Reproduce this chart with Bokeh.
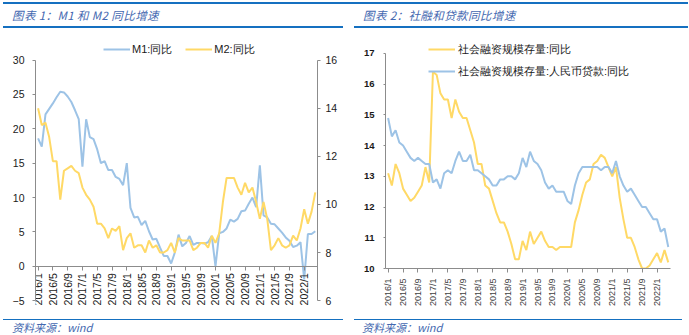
import numpy as np
from bokeh.plotting import figure
from bokeh.models import Range1d, LinearAxis, FixedTicker, Legend, LegendItem, Div
from bokeh.layouts import row, column
from bokeh.embed import file_html
from bokeh.resources import INLINE

# ---------------- data ----------------
months = [f"{y}/{m}" for y in range(2016, 2023) for m in range(1, 13)][:76]

m1 = [18.6, 17.4, 22.1, 22.9, 23.7, 24.6, 25.4, 25.3, 24.7, 23.9, 22.7, 21.4,
      14.5, 21.4, 18.8, 18.5, 17.0, 15.0, 15.3, 14.0, 14.0, 13.0, 12.7, 11.8,
      15.0, 8.5, 7.1, 7.2, 6.0, 6.6, 5.1, 3.9, 4.0, 2.7, 1.5, 1.5,
      0.4, 2.0, 4.6, 2.9, 3.4, 4.4, 3.1, 3.4, 3.4, 3.3, 3.5, 4.4,
      0.0, 4.8, 5.0, 5.5, 6.8, 6.5, 6.9, 8.0, 8.1, 9.1, 10.0, 8.6,
      14.7, 7.4, 7.1, 6.2, 6.1, 5.5, 4.9, 4.2, 3.7, 2.8, 3.0, 3.5,
      -1.9, 4.7, 4.7, 5.1]

m2 = [14.0, 13.3, 13.4, 12.8, 11.8, 11.8, 10.2, 11.4, 11.5, 11.6, 11.4, 11.3,
      10.7, 10.4, 10.2, 9.9, 9.2, 9.2, 9.0, 8.6, 9.0, 8.9, 9.1, 8.1,
      8.6, 8.8, 8.2, 8.3, 8.3, 8.0, 8.5, 8.2, 8.3, 8.0, 8.0, 8.1,
      8.4, 8.0, 8.6, 8.5, 8.5, 8.5, 8.1, 8.2, 8.4, 8.4, 8.2, 8.7,
      8.4, 8.8, 10.1, 11.1, 11.1, 11.1, 10.7, 10.4, 10.9, 10.5, 10.7, 10.1,
      9.4, 10.1, 9.4, 8.1, 8.3, 8.6, 8.3, 8.2, 8.3, 8.7, 8.5, 9.0,
      9.8, 9.2, 9.7, 10.5]

tsf = [13.1, 12.7, 13.4, 13.1, 12.6, 12.4, 12.2, 12.3, 12.5, 12.7, 13.3, 12.8,
       16.4, 16.3, 15.7, 15.5, 15.5, 14.9, 15.5, 15.1, 14.9, 14.9, 14.5, 14.1,
       13.4, 13.4, 12.7, 12.6, 12.2, 11.8, 11.5, 11.5, 11.2, 10.8, 10.3, 10.3,
       10.9, 10.6, 11.2, 10.8, 11.0, 11.2, 10.9, 10.7, 10.7, 10.6, 10.7, 10.7,
       10.7, 10.7, 11.5, 11.9, 12.4, 12.8, 12.9, 13.4, 13.5, 13.7, 13.6, 13.3,
       13.0, 13.3, 12.3, 11.6, 11.0, 11.0, 10.7, 10.3, 10.0, 10.0, 10.1, 10.3,
       10.5, 10.2, 10.6, 10.2]

loan = [14.9, 14.3, 14.5, 14.1, 14.0, 13.8, 13.6, 13.5, 13.6, 13.5, 13.4, 13.4,
        12.8, 12.9, 12.6, 13.1, 13.2, 13.1, 13.5, 13.8, 13.5, 13.5, 13.7, 13.2,
        13.2, 13.1, 13.0, 12.9, 12.7, 12.7, 12.9, 12.9, 13.0, 13.0, 12.9, 13.1,
        13.6, 13.3, 13.8, 13.5, 13.4, 13.2, 12.8, 12.6, 12.7, 12.5, 12.5, 12.5,
        12.2, 12.1, 12.7, 13.1, 13.3, 13.3, 13.3, 13.3, 13.3, 13.2, 13.3, 13.3,
        13.1, 13.5, 13.0, 12.7, 12.5, 12.6, 12.4, 12.2, 12.0, 12.0, 11.8, 11.6,
        11.6, 11.2, 11.3, 10.7]

left_ticks = [-5, 0, 5, 10, 15, 20, 25, 30]
right_ticks = [6, 8, 10, 12, 14, 16]
p2_ticks = [10, 11, 12, 13, 14, 15, 16, 17]

x = list(range(len(months)))
tick_idx = x[::4]
label_map = {i: months[i] for i in tick_idx}

BLUE = "#9DC3E6"
YELLOW = "#FFD966"
RULE = "#1570C0"
TITLE_C = "#4468B0"
AXIS_C = "#8C8C8C"
FONT = "Liberation Sans"


def style_axis(ax, size, bold=False, color="#1a1a1a", standoff=5, tick_out=4):
    ax.axis_line_color = AXIS_C
    ax.major_tick_line_color = AXIS_C
    ax.minor_tick_line_color = None
    ax.major_tick_in = 0
    ax.major_tick_out = tick_out
    ax.major_label_standoff = standoff
    ax.major_label_text_font = FONT
    ax.major_label_text_font_size = size
    ax.major_label_text_color = color
    ax.major_label_text_font_style = "bold" if bold else "normal"


def header(text, w, top_l, top_w, line_l, line_w, text_l):
    html = (
        f'<div style="position:relative;width:{w}px;height:30px;">'
        f'<div style="position:absolute;left:{top_l}px;top:2px;width:{top_w}px;height:2px;background:{RULE};"></div>'
        f'<div style="position:absolute;left:{text_l}px;top:6px;font-style:italic;font-size:11.5px;letter-spacing:0.4px;'
        f"font-family:'Noto Sans CJK SC';color:{TITLE_C};line-height:18px;white-space:nowrap;\">{text}</div>"
        f'<div style="position:absolute;left:{line_l}px;top:26px;width:{line_w}px;height:2px;background:{RULE};"></div>'
        f'</div>'
    )
    return Div(text=html, width=w, height=30, margin=(0, 0, 0, 0))


def footer(w, line_l, line_w, text_l):
    html = (
        f'<div style="position:relative;width:{w}px;height:18px;">'
        f'<div style="position:absolute;left:{line_l}px;top:1.5px;width:{line_w}px;height:1.5px;background:{RULE};"></div>'
        f'<div style="position:absolute;left:{text_l}px;top:3px;font-style:italic;font-size:11px;'
        f"font-family:'Noto Sans CJK SC';color:{TITLE_C};line-height:14px;white-space:nowrap;\">资料来源：wind</div>"
        f'</div>'
    )
    return Div(text=html, width=w, height=18, margin=(0, 0, 0, 0))


# ---------------- left chart ----------------
p1 = figure(width=345, height=287, x_range=Range1d(-0.7, 75.6), y_range=Range1d(-6.0, 33.0),
            output_backend="svg", toolbar_location=None,
            min_border_left=35, min_border_right=28, min_border_top=9, min_border_bottom=10,
            margin=(0, 0, 0, 0))
p1.extra_y_ranges = {"m2": Range1d(6 - 1 / 3.5, 6 + 38 / 3.5)}
p1.outline_line_color = None
p1.grid.visible = False

r1 = p1.line(x, m1, color=BLUE, line_width=2)
r2 = p1.line(x, m2, color=YELLOW, line_width=2, y_range_name="m2")

xa = p1.xaxis[0]
xa.ticker = FixedTicker(ticks=tick_idx)
xa.major_label_overrides = label_map
xa.major_label_orientation = np.pi / 2
xa.fixed_location = 0
style_axis(xa, "10.5px", standoff=3)

ya = p1.yaxis[0]
ya.ticker = FixedTicker(ticks=left_ticks)
ya.bounds = (-5, 30)
style_axis(ya, "10.5px", standoff=8, tick_out=3)

ra = LinearAxis(y_range_name="m2", ticker=FixedTicker(ticks=right_ticks), bounds=(6, 16))
style_axis(ra, "10.5px", standoff=5, tick_out=3)
p1.add_layout(ra, "right")

leg1 = Legend(items=[LegendItem(label="M1:同比", renderers=[r1]),
                     LegendItem(label="M2:同比", renderers=[r2])],
              orientation="horizontal", location=(68, 248), padding=0, margin=0, spacing=13,
              glyph_width=27, glyph_height=20, label_standoff=2, label_height=20,
              label_text_font_size="11px", label_text_font=FONT, label_text_color="#1a1a1a",
              background_fill_alpha=0, border_line_color=None)
p1.add_layout(leg1)

# ---------------- right chart ----------------
p2 = figure(width=344, height=287, x_range=Range1d(-0.7, 75.6), y_range=Range1d(10, 17.55),
            output_backend="svg", toolbar_location=None,
            min_border_left=40, min_border_right=19, min_border_top=6, min_border_bottom=49,
            margin=(0, 0, 0, 0))
p2.outline_line_color = None
p2.grid.visible = False

r3 = p2.line(x, tsf, color=YELLOW, line_width=2)
r4 = p2.line(x, loan, color=BLUE, line_width=2)

xb = p2.xaxis[0]
xb.ticker = FixedTicker(ticks=tick_idx)
xb.major_label_overrides = label_map
xb.major_label_orientation = np.pi / 2
style_axis(xb, "9px", color="#404040", standoff=6)

yb = p2.yaxis[0]
yb.ticker = FixedTicker(ticks=p2_ticks)
yb.bounds = (10, 17)
style_axis(yb, "9.5px", bold=True, standoff=9, tick_out=2)

leg2 = Legend(items=[LegendItem(label="社会融资规模存量:同比", renderers=[r3]),
                     LegendItem(label="社会融资规模存量:人民币贷款:同比", renderers=[r4])],
              orientation="vertical", location=(43, 187), padding=0, margin=0, spacing=2,
              glyph_width=27, glyph_height=20, label_standoff=3, label_height=20,
              label_text_font_size="11px", label_text_font=FONT, label_text_color="#1a1a1a",
              background_fill_alpha=0, border_line_color=None)
p2.add_layout(leg2)

left = column(header("图表 1：M1 和 M2 同比增速", 345, 3, 342, 3, 340, 12), p1,
              footer(345, 3, 340, 12), spacing=0)
right = column(header("图表 2：社融和贷款同比增速", 344, 0, 343, 9, 334, 18), p2,
               footer(344, 9, 328, 17), spacing=0)
layout = row(left, right, spacing=0)

open("out.html", "w").write(file_html(layout, INLINE))
